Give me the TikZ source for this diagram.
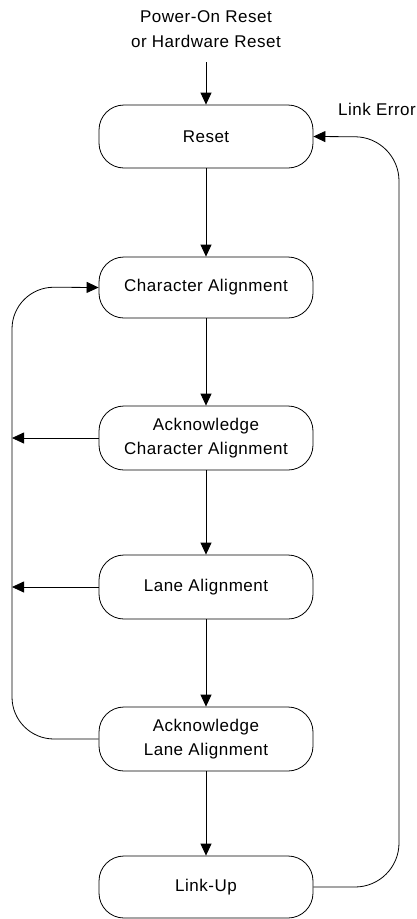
\documentclass[tikz,border=0pt]{standalone}
\usepackage{fontspec}
\setmainfont{Liberation Sans}[LetterSpace=3]
\usetikzlibrary{arrows.meta}
\tikzset{
  state/.style={draw, line width=0.8pt, rectangle, rounded corners=25pt,
    minimum width=214pt, minimum height=63pt, inner sep=0pt, align=center,
    font=\fontsize{17}{24}\selectfont},
  lbl/.style={inner sep=0pt, align=center, font=\fontsize{17}{25}\selectfont},
  arr/.style={line width=0.8pt, -{Triangle[length=12pt,width=11pt]}},
  ln/.style={line width=0.8pt}
}
\begin{document}
\begin{tikzpicture}[x=1pt, y=-1pt]
\useasboundingbox (0,0) rectangle (416,919);
\node[lbl] (top) at (206,29.5) {Power-On Reset\\or Hardware Reset};
\coordinate (start) at (206,62);
\node[state] (reset) at (206,136.5) {Reset};
\node[state, minimum height=61pt] (char) at (206,287.5) {Character Alignment};
\node[state, minimum height=64pt] (ackc) at (206,438) {Acknowledge\\Character Alignment};
\node[state, minimum height=64pt] (lane) at (206,587) {Lane Alignment};
\node[state, minimum height=64pt] (ackl) at (206,739) {Acknowledge\\Lane Alignment};
\node[state, minimum height=62pt] (link) at (206,887) {Link-Up};
\node[lbl] (err) at (377,109) {Link Error};
\coordinate (rc) at (399,137);
\coordinate (lc) at (12,287);

\draw[arr] (start) -- (reset.north);
\draw[arr] (reset.south) -- (char.north);
\draw[arr] (char.south) -- (ackc.north);
\draw[arr] (ackc.south) -- (lane.north);
\draw[arr] (lane.south) -- (ackl.north);
\draw[arr] (ackl.south) -- (link.north);

\draw[arr, rounded corners=44pt] (link.east) -| (rc) -- (reset.east);
\draw[arr, rounded corners=42pt] (ackl.west) -| (lc) -- (char.west);
\draw[arr] (ackc.west) -- (ackc.west -| lc);
\draw[arr] (lane.west) -- (lane.west -| lc);
\end{tikzpicture}
\end{document}
